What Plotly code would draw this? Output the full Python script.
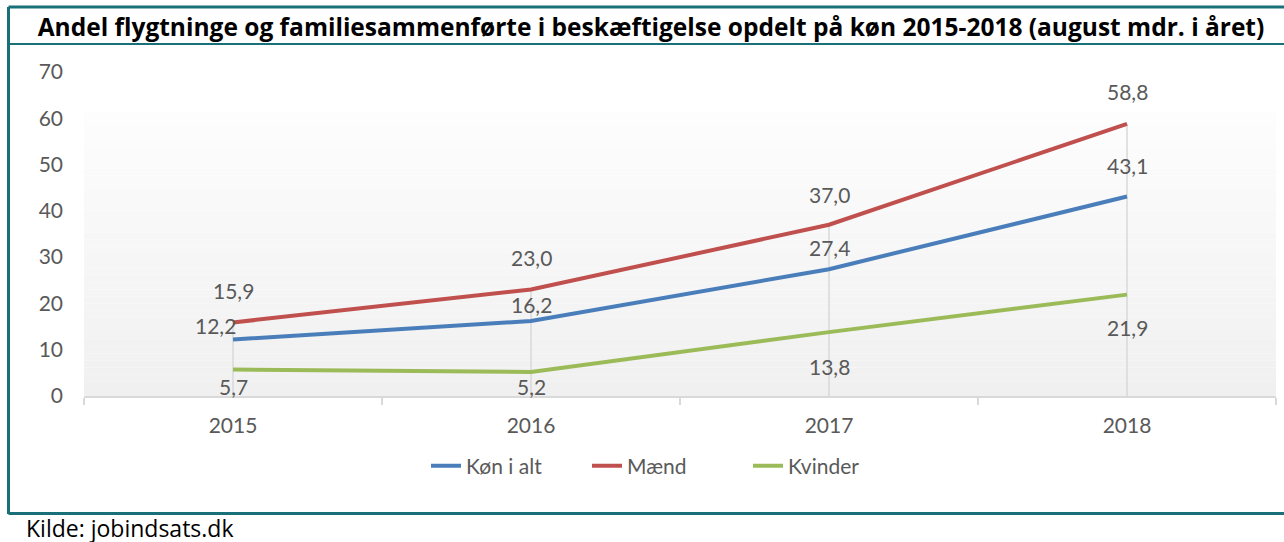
import plotly.graph_objects as go

W, H = 1284, 542
ML, MR, MT, MB = 84, 8, 72, 146

years = ["2015", "2016", "2017", "2018"]
total = [12.2, 16.2, 27.4, 43.1]
men = [15.9, 23.0, 37.0, 58.8]
women = [5.7, 5.2, 13.8, 21.9]
series_names = ["Køn i alt", "Mænd", "Kvinder"]
y_ticks = [0, 10, 20, 30, 40, 50, 60, 70]
title_text = "Andel flygtninge og familiesammenførte i beskæftigelse opdelt på køn 2015-2018 (august mdr. i året)"
source_text = "Kilde: jobindsats.dk"

colors = ["#4a7ebb", "#c0504d", "#9bbb59"]
# label offsets (pixels) per series / year - style only
label_yshift = [[14, 17, 22, 31], [32, 32, 30, 32], [-17, -15, -34, -33]]
label_xshift = [[-18, 0, 0, 0], [0, 0, 0, 0], [0, 0, 0, 0]]

FONT = "Lato"
GRAY = "#595959"
FRAME = "#1a7079"

fig = go.Figure()

# gradient background via bands
n = 40
top_frac = 0.877
def lerp(a, b, t):
    return int(round(a + (b - a) * t))
for i in range(n):
    t = i / (n - 1)
    c = lerp(0xf0, 0xfd, t)
    fig.add_shape(type="rect", xref="x domain", yref="y domain",
                  x0=0, x1=1, y0=top_frac * i / n, y1=top_frac * (i + 1) / n,
                  fillcolor=f"rgb({c},{c},{c})", line_width=0, layer="below")

# drop lines from each category's max value down to axis
dx, dy = [], []
for k, yv in enumerate(years):
    dx += [yv, yv, None]
    dy += [0, max(total[k], men[k], women[k]), None]
fig.add_trace(go.Scatter(x=dx, y=dy, mode="lines", line=dict(color="#d9d9d9", width=1.5),
                         showlegend=False, hoverinfo="skip"))

for name, vals, col in zip(series_names, [total, men, women], colors):
    fig.add_trace(go.Scatter(x=years, y=vals, mode="lines", name=name,
                             line=dict(color=col, width=4)))

for si, vals in enumerate([total, men, women]):
    for k, v in enumerate(vals):
        fig.add_annotation(x=k, y=v, xref="x", yref="y", text=f"{v:.1f}".replace(".", ","),
                           showarrow=False, yshift=label_yshift[si][k], xshift=label_xshift[si][k],
                           font=dict(family=FONT, size=21, color=GRAY))

def px_x(p):
    return (p - ML) / (W - ML - MR)
def px_y(p):
    return (H - MB - p) / (H - MT - MB)

frame_line = dict(color=FRAME, width=3)
fig.add_shape(type="line", xref="paper", yref="paper", x0=px_x(8.5), x1=px_x(1290), y0=px_y(7), y1=px_y(7), line=frame_line)
fig.add_shape(type="line", xref="paper", yref="paper", x0=px_x(8.5), x1=px_x(8.5), y0=px_y(7), y1=px_y(514), line=frame_line)
fig.add_shape(type="line", xref="paper", yref="paper", x0=px_x(8.5), x1=px_x(1290), y0=px_y(44), y1=px_y(44), line=dict(color=FRAME, width=2))
fig.add_shape(type="line", xref="paper", yref="paper", x0=px_x(8.5), x1=px_x(1290), y0=px_y(513.5), y1=px_y(513.5), line=frame_line)

fig.add_annotation(xref="paper", yref="paper", x=px_x(24), y=px_y(528), text=source_text,
                   showarrow=False, xanchor="left", yanchor="middle",
                   font=dict(family="Open Sans", size=23, color="#000000"))

fig.update_layout(
    width=W, height=H,
    margin=dict(l=ML, r=MR, t=MT, b=MB, pad=0),
    paper_bgcolor="white", plot_bgcolor="white",
    title=dict(text=f"<b>{title_text}</b>", x=651 / W, xanchor="center", y=1 - 27 / H,
               yanchor="middle", yref="container",
               font=dict(family="Open Sans", size=24.5, color="#000000")),
    font=dict(family=FONT, color=GRAY, size=20),
    showlegend=True,
    legend=dict(orientation="h", x=px_x(426), xanchor="left", xref="paper",
                y=px_y(466), yanchor="middle", yref="paper",
                font=dict(family=FONT, size=21, color=GRAY), entrywidth=116,
                bgcolor="rgba(0,0,0,0)"),
    xaxis=dict(type="category", categoryorder="array", categoryarray=years,
               range=[-0.5, 3.5], showgrid=False, zeroline=False,
               showline=True, linecolor="#d9d9d9", linewidth=1.5,
               ticks="outside", tickson="boundaries", ticklen=7, tickcolor="#d9d9d9", tickwidth=1.5,
               tickfont=dict(family=FONT, size=21, color=GRAY), ticklabelstandoff=10),
    yaxis=dict(range=[0, 70], tickvals=y_ticks, showgrid=False, zeroline=False, showline=False,
               ticks="", tickfont=dict(family=FONT, size=21, color=GRAY), ticklabelstandoff=20),
)

fig.write_html("out.html", config={"displayModeBar": False},
               post_script="document.body.style.margin='0';")
